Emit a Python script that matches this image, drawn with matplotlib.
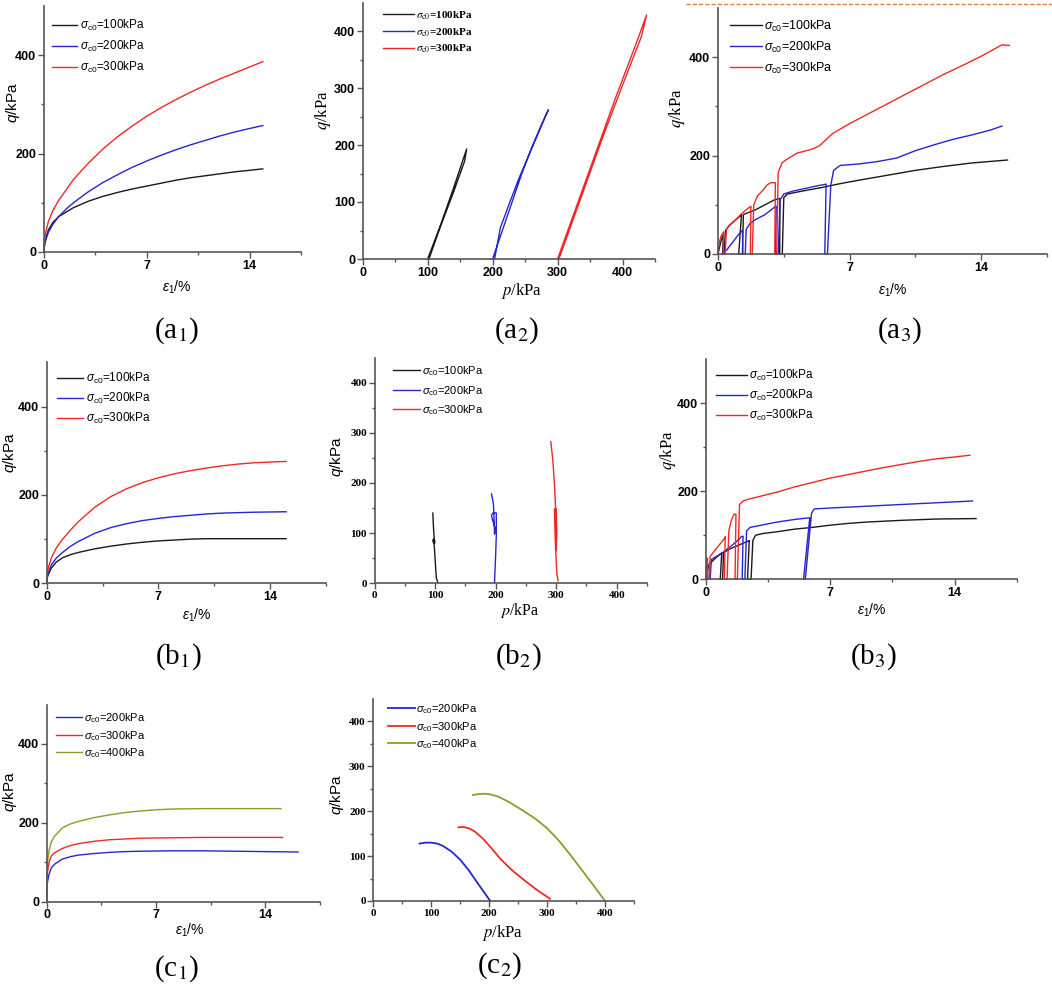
import matplotlib
matplotlib.use('Agg')
import matplotlib.pyplot as plt
from matplotlib.ticker import FixedLocator
from matplotlib.font_manager import FontProperties
from matplotlib.lines import Line2D

plt.rcParams['mathtext.fontset'] = 'custom'
plt.rcParams['mathtext.rm'] = 'Liberation Sans'
plt.rcParams['mathtext.it'] = 'Liberation Sans:italic'
plt.rcParams['mathtext.bf'] = 'Liberation Sans:bold'
plt.rcParams['font.family'] = ['Liberation Sans', 'DejaVu Sans']

# ---------------- data ----------------
# (a1) q - eps1
a1_black_x = [0, 0.03, 0.1, 0.3, 0.6, 1, 2, 3, 4, 5, 6, 7, 8, 9, 10, 11, 12, 13, 14, 14.9]
a1_black_y = [0, 14, 26, 45, 60, 72, 90, 103, 113, 121, 128, 134, 140, 146, 151, 155, 159, 163, 166, 169]
a1_blue_x = [0, 0.03, 0.1, 0.3, 0.6, 1, 1.5, 2, 3, 4, 5, 6, 7, 8, 9, 10, 11, 12, 13, 14, 14.9]
a1_blue_y = [0, 12, 22, 40, 56, 72, 87, 100, 122, 141, 157, 172, 185, 197, 208, 218, 227, 236, 244, 251, 257]
a1_red_x = [0, 0.03, 0.1, 0.3, 0.6, 1, 2, 3, 4, 5, 6, 7, 8, 9, 10, 11, 12, 13, 14, 14.9]
a1_red_y = [0, 22, 38, 62, 84, 105, 147, 180, 209, 234, 256, 276, 294, 310, 325, 339, 352, 364, 376, 387]

# (a2) q - p
a2_black_p = [100, 120, 140, 160, 157, 140, 120, 102]
a2_black_q = [0, 60, 125, 193, 172, 118, 58, 0]
a2_blue_p = [200, 215, 230, 245, 260, 275, 286, 283, 270, 255, 240, 225, 212, 203]
a2_blue_q = [0, 50, 100, 150, 195, 235, 262, 255, 220, 180, 140, 95, 55, 0]
a2_red_p = [300, 330, 360, 390, 420, 437, 429, 400, 370, 340, 310, 302]
a2_red_q = [0, 95, 190, 285, 375, 428, 390, 305, 215, 120, 25, 0]

# (a3) q - eps1 (staged loading)
a3_black_x = [0, 0.15, 0.28, 0.25, 0.32, 0.4, 0.6, 0.9, 1.2, 1.25, 1.1, 1.3, 1.35, 1.6, 2.0, 2.5, 3.0,
              3.3, 3.28, 3.42, 3.5, 3.7, 4.5, 5.5, 6.5, 7.5, 9, 10.5, 12, 13.5, 15.4]
a3_black_y = [0, 25, 40, 0, 0, 48, 58, 68, 78, 80, 0, 0, 80, 84, 90, 100, 110,
              113, 0, 0, 115, 122, 128, 135, 143, 150, 160, 170, 178, 185, 191]
a3_blue_x = [0.25, 0.5, 0.8, 1.1, 1.3, 1.32, 1.45, 1.5, 1.7, 2.0, 2.5, 3.0, 3.1, 3.05, 3.2, 3.3, 3.5,
             4.0, 4.5, 5.2, 5.75, 5.68, 5.82, 6.0, 6.15, 6.5, 7.5, 8.5, 9.5, 10.5, 11.5, 12.5, 13.5, 14.5, 15.1]
a3_blue_y = [0, 10, 25, 40, 48, 0, 0, 50, 62, 70, 80, 95, 97, 0, 0, 110, 122,
             128, 132, 138, 142, 0, 0, 140, 170, 180, 183, 188, 195, 210, 222, 233, 242, 252, 260]
a3_red_x = [0, 0.05, 0.15, 0.3, 0.28, 0.38, 0.45, 0.6, 0.9, 1.2, 1.5, 1.75, 1.72, 1.82, 1.9, 2.1, 2.4,
            2.6, 2.8, 3.05, 3.02, 3.12, 3.2, 3.4, 3.6, 4.2, 5.0, 5.4, 6.1, 7, 8, 9, 10, 11, 12, 13, 14, 15.1, 15.5]
a3_red_y = [0, 20, 35, 45, 0, 0, 50, 58, 68, 80, 90, 97, 0, 0, 100, 118, 130,
            140, 145, 145, 0, 0, 165, 185, 191, 205, 213, 220, 245, 265, 285, 305, 325, 345, 365, 383, 402, 425, 424]

# (b1) q - eps1
b1_black_x = [0, 0.03, 0.1, 0.3, 0.6, 1, 1.5, 2, 3, 4, 5, 6, 7, 8, 9, 10, 12, 15]
b1_black_y = [0, 12, 20, 35, 48, 58, 65, 70, 78, 84, 89, 93, 96, 98, 100, 101, 101, 101]
b1_blue_x = [0, 0.03, 0.1, 0.3, 0.6, 1, 1.5, 2, 3, 4, 5, 6, 7, 8, 9, 10, 11, 12, 13, 15]
b1_blue_y = [0, 14, 25, 42, 57, 70, 84, 95, 113, 126, 135, 142, 147, 151, 154, 157, 159, 160, 161, 162]
b1_red_x = [0, 0.03, 0.1, 0.3, 0.6, 1, 1.5, 2, 3, 4, 5, 6, 7, 8, 9, 10, 11, 12, 13, 15]
b1_red_y = [0, 20, 35, 58, 80, 100, 121, 140, 172, 196, 214, 228, 239, 248, 255, 261, 266, 270, 273, 276]

# (b2) q - p
b2_black_p = [104, 102, 101, 100, 99, 98, 96, 97, 99, 99, 98, 97, 96]
b2_black_q = [3, 10, 25, 45, 65, 78, 85, 88, 86, 80, 95, 115, 140]
b2_blue_p = [198, 199, 200, 201, 201, 196, 193, 195, 199, 198, 197, 196, 193]
b2_blue_q = [2, 30, 60, 98, 140, 141, 135, 125, 110, 98, 140, 160, 178]
b2_red_p = [303, 301, 300, 299, 298, 297, 300, 301, 300, 299, 297, 294, 291]
b2_red_q = [5, 20, 45, 65, 100, 148, 148, 100, 65, 148, 200, 250, 282]

# (b3) q - eps1 (staged loading)
b3_black_x = [0.05, 0.1, 0.2, 0.4, 0.6, 0.85, 0.9, 0.82, 0.95, 1.0, 1.3, 1.7, 2.1, 2.4, 2.45, 2.35, 2.55,
              2.65, 2.8, 3.2, 4, 5, 6, 7, 8, 9, 11, 13, 15.2]
b3_black_y = [0, 20, 35, 42, 50, 58, 60, 0, 0, 60, 68, 75, 82, 87, 88, 0, 0,
              88, 100, 104, 108, 114, 118, 123, 127, 130, 134, 137, 138]
b3_blue_x = [0.25, 0.32, 0.6, 1.0, 1.5, 1.9, 2.0, 2.1, 2.05, 2.2, 2.3, 2.5, 3, 4, 5, 5.85, 5.5, 5.6,
             5.95, 6.1, 7, 8, 9, 10, 11, 12, 13, 14, 15.0]
b3_blue_y = [0, 45, 52, 62, 78, 92, 97, 98, 0, 0, 110, 118, 122, 130, 136, 140, 0, 0,
             150, 160, 162, 164, 166, 168, 170, 172, 174, 176, 178]
b3_red_x = [0, 0.05, 0.1, 0.12, 0.2, 0.25, 0.4, 0.7, 1.0, 1.1, 1.05, 1.2, 1.3, 1.45, 1.6, 1.7, 1.65, 1.78,
            1.9, 2.1, 2.5, 3, 4, 5, 6, 7, 8, 9, 10, 11, 12, 13, 14, 14.85]
b3_red_y = [0, 30, 48, 0, 0, 52, 60, 75, 90, 97, 0, 0, 110, 135, 148, 148, 0, 0,
            170, 178, 183, 188, 198, 210, 220, 230, 238, 246, 254, 261, 268, 274, 278, 282]

# (c1) q - eps1
c1_blue_x = [0, 0.02, 0.05, 0.15, 0.3, 0.5, 1, 1.5, 2, 3, 4, 5, 6, 8, 10, 12, 14, 16.1]
c1_blue_y = [0, 30, 50, 70, 86, 95, 108, 114, 118, 122, 125, 127, 128, 129, 129, 128, 127, 126]
c1_red_x = [0, 0.02, 0.05, 0.15, 0.3, 0.5, 1, 1.5, 2, 3, 4, 5, 6, 8, 10, 12, 15.1]
c1_red_y = [0, 50, 75, 100, 116, 124, 135, 142, 147, 153, 157, 159, 161, 162, 163, 163, 163]
c1_olive_x = [0, 0.02, 0.05, 0.15, 0.3, 0.5, 1, 1.5, 2, 3, 4, 5, 6, 7, 8, 10, 12, 15]
c1_olive_y = [0, 70, 100, 130, 152, 166, 187, 197, 203, 213, 220, 226, 230, 233, 235, 236, 236, 236]

# (c2) q - p
c2_blue_p = [80, 90, 100, 110, 120, 135, 150, 165, 180, 192, 202]
c2_blue_q = [128, 130, 130, 128, 123, 110, 92, 68, 40, 18, 0]
c2_red_p = [147, 155, 165, 175, 190, 205, 220, 240, 260, 280, 305]
c2_red_q = [164, 165, 162, 155, 138, 116, 93, 68, 47, 27, 5]
c2_olive_p = [172, 180, 190, 200, 215, 235, 260, 280, 300, 320, 340, 360, 380, 400]
c2_olive_q = [236, 238, 239, 238, 233, 220, 200, 183, 162, 135, 103, 69, 35, 0]

labels_abc = [r'$\sigma_{\rm c0}$=100kPa', r'$\sigma_{\rm c0}$=200kPa', r'$\sigma_{\rm c0}$=300kPa']
labels_c = [r'$\sigma_{\rm c0}$=200kPa', r'$\sigma_{\rm c0}$=300kPa', r'$\sigma_{\rm c0}$=400kPa']

eps_xticks = [0, 7, 14]
eps_yticks = [0, 200, 400]
p_ticks = [0, 100, 200, 300, 400]

BLACK = '#1a1a1a'
BLUE = '#2626d0'
RED = '#f02828'
OLIVE = '#8f9b2a'
SPINE = '#555555'

# ---------------- figure ----------------
W, H = 1052, 985
fig = plt.figure(figsize=(W / 100, H / 100), dpi=100)


def add_ax(box):
    x0, x1, yt, yb = box
    ax = fig.add_axes([x0 / W, 1 - yb / H, (x1 - x0) / W, (yb - yt) / H])
    ax.patch.set_alpha(0)
    return ax


def style(ax, kind, tick_family, tick_size=8, tick_weight='bold'):
    for s in ['top', 'right']:
        ax.spines[s].set_visible(False)
    for s in ['left', 'bottom']:
        ax.spines[s].set_color(SPINE)
        ax.spines[s].set_linewidth(1.2)
    if kind == 'eps':
        ax.set_xlim(0, 17.5)
        ax.set_ylim(0, 500)
        ax.set_xticks(eps_xticks)
        ax.set_yticks(eps_yticks)
        ax.xaxis.set_minor_locator(FixedLocator([3.5, 10.5, 17.5]))
        ax.yaxis.set_minor_locator(FixedLocator([100, 300]))
    else:
        ax.set_xlim(0, 450)
        ax.set_ylim(0, 450)
        ax.set_xticks(p_ticks)
        ax.set_yticks(p_ticks)
        ax.xaxis.set_minor_locator(FixedLocator([50, 150, 250, 350, 450]))
        ax.yaxis.set_minor_locator(FixedLocator([50, 150, 250, 350]))
    ax.tick_params(which='both', direction='out', color=SPINE, width=1.0, pad=1.5)
    ax.tick_params(which='major', length=4)
    ax.tick_params(which='minor', length=2.5)
    fp = FontProperties(family=tick_family, size=tick_size, weight=tick_weight)
    for lab in ax.get_xticklabels() + ax.get_yticklabels():
        lab.set_fontproperties(fp)


def add_legend(ax, box, fs, family, weight, mathfam, xline0, xline1, xtext, row1, step):
    x0, x1, yt, yb = box
    fs_px = fs * 100 / 72
    rowh = 1.2 * fs_px
    top = row1 - rowh / 2
    fp = FontProperties(family=family, size=fs, weight=weight, math_fontfamily=mathfam)
    ax.legend(loc='upper left',
              bbox_to_anchor=((xline0 - x0) / (x1 - x0), (yb - top) / (yb - yt)),
              frameon=False, prop=fp, borderpad=0, borderaxespad=0,
              handlelength=(xline1 - xline0) / fs_px,
              handletextpad=(xtext - xline1) / fs_px,
              labelspacing=(step - rowh) / fs_px)


def ftext(x, y, s, size, family, mathfam='custom', rotation=0, weight='normal'):
    fig.text(x / W, 1 - y / H, s, fontsize=size, family=family, math_fontfamily=mathfam,
             rotation=rotation, ha='center', va='center', weight=weight)


SANS = ['Liberation Sans', 'DejaVu Sans']
SERIF = ['Liberation Serif', 'DejaVu Serif']
LW = 1.0
EPS = r'$\varepsilon_{\rm 1}$/%'
QS = r'$q$/kPa'
PS = r'$p$/kPa'

# (a1)
box = (44, 301, 6, 252)
ax = add_ax(box)
ax.plot(a1_black_x, a1_black_y, color=BLACK, lw=LW, label=labels_abc[0], clip_on=False)
ax.plot(a1_blue_x, a1_blue_y, color=BLUE, lw=LW, label=labels_abc[1], clip_on=False)
ax.plot(a1_red_x, a1_red_y, color=RED, lw=LW, label=labels_abc[2], clip_on=False)
style(ax, 'eps', SANS, 9)
add_legend(ax, box, 8.5, SANS, 'normal', 'custom', 52, 77, 80, 25, 20)
ftext(13, 103, QS, 11, SANS, rotation=90)
ftext(177, 287, EPS, 10, SANS)

# (a2)
box = (362.7, 655, 2.5, 259)
ax = add_ax(box)
ax.plot(a2_black_p, a2_black_q, color=BLACK, lw=LW, label=labels_abc[0], clip_on=False)
ax.plot(a2_blue_p, a2_blue_q, color=BLUE, lw=LW, label=labels_abc[1], clip_on=False)
ax.plot(a2_red_p, a2_red_q, color=RED, lw=LW, label=labels_abc[2], clip_on=False)
style(ax, 'p', SANS, 9)
add_legend(ax, box, 8, SERIF, 'bold', 'stix', 383, 414, 416, 16, 17.5)
ftext(323, 110, QS, 12, SERIF, 'stix', rotation=90)
ftext(522, 291, PS, 12, SERIF, 'stix')

# (a3)
box = (718, 1047, 8, 254)
ax = add_ax(box)
ax.plot(a3_black_x, a3_black_y, color=BLACK, lw=LW, label=labels_abc[0], clip_on=False)
ax.plot(a3_blue_x, a3_blue_y, color=BLUE, lw=LW, label=labels_abc[1], clip_on=False)
ax.plot(a3_red_x, a3_red_y, color=RED, lw=LW, label=labels_abc[2], clip_on=False)
style(ax, 'eps', SANS, 9)
add_legend(ax, box, 9, SANS, 'normal', 'custom', 730, 762, 764, 26, 21)
ftext(677, 108, QS, 12, SERIF, 'stix', rotation=90)
ftext(893, 290, EPS, 10, SANS)

# (b1)
box = (46.7, 326, 362.5, 583.3)
ax = add_ax(box)
ax.plot(b1_black_x, b1_black_y, color=BLACK, lw=LW, label=labels_abc[0], clip_on=False)
ax.plot(b1_blue_x, b1_blue_y, color=BLUE, lw=LW, label=labels_abc[1], clip_on=False)
ax.plot(b1_red_x, b1_red_y, color=RED, lw=LW, label=labels_abc[2], clip_on=False)
style(ax, 'eps', SANS, 9)
add_legend(ax, box, 8.5, SANS, 'normal', 'custom', 57, 83, 86, 378, 19)
ftext(10, 453, QS, 11, SANS, rotation=90)
ftext(197, 615, EPS, 10, SANS)

# (b2)
box = (374.7, 647, 357.5, 583.3)
ax = add_ax(box)
ax.plot(b2_black_p, b2_black_q, color=BLACK, lw=LW, label=labels_abc[0], clip_on=False)
ax.plot(b2_blue_p, b2_blue_q, color=BLUE, lw=LW, label=labels_abc[1], clip_on=False)
ax.plot(b2_red_p, b2_red_q, color=RED, lw=LW, label=labels_abc[2], clip_on=False)
style(ax, 'p', SERIF, 8)
add_legend(ax, box, 8, SANS, 'normal', 'custom', 393, 420, 422, 371, 19)
ftext(337, 457, QS, 11, SANS, rotation=90)
ftext(520, 610, PS, 11.5, SERIF, 'stix')

# (b3)
box = (705.7, 1017, 359.3, 579.3)
ax = add_ax(box)
ax.plot(b3_black_x, b3_black_y, color=BLACK, lw=LW, label=labels_abc[0], clip_on=False)
ax.plot(b3_blue_x, b3_blue_y, color=BLUE, lw=LW, label=labels_abc[1], clip_on=False)
ax.plot(b3_red_x, b3_red_y, color=RED, lw=LW, label=labels_abc[2], clip_on=False)
style(ax, 'eps', SANS, 9)
add_legend(ax, box, 8.5, SANS, 'normal', 'custom', 716, 747, 749, 375, 19)
ftext(668, 450, QS, 12, SERIF, 'stix', rotation=90)
ftext(872, 610, EPS, 10, SANS)

# (c1)
box = (46.7, 320, 704.5, 901.7)
ax = add_ax(box)
ax.plot(c1_blue_x, c1_blue_y, color=BLUE, lw=LW, label=labels_c[0], clip_on=False)
ax.plot(c1_red_x, c1_red_y, color=RED, lw=LW, label=labels_c[1], clip_on=False)
ax.plot(c1_olive_x, c1_olive_y, color=OLIVE, lw=LW, label=labels_c[2], clip_on=False)
style(ax, 'eps', SANS, 9)
add_legend(ax, box, 8, SANS, 'normal', 'custom', 56, 82, 84, 718, 17)
ftext(10, 792, QS, 11, SANS, rotation=90)
ftext(190, 930, EPS, 10, SANS)

# (c2)
box = (373.3, 634, 699, 901)
ax = add_ax(box)
ax.plot(c2_blue_p, c2_blue_q, color=BLUE, lw=LW * 1.3, label=labels_c[0], clip_on=False)
ax.plot(c2_red_p, c2_red_q, color=RED, lw=LW * 1.3, label=labels_c[1], clip_on=False)
ax.plot(c2_olive_p, c2_olive_q, color=OLIVE, lw=LW * 1.3, label=labels_c[2], clip_on=False)
style(ax, 'p', SERIF, 8)
add_legend(ax, box, 8, SANS, 'normal', 'custom', 388, 415, 416, 709, 17)
ftext(337, 795, QS, 11, SANS, rotation=90)
ftext(503, 933, PS, 12, SERIF, 'stix')

# panel captions
captions = [('a', '1', 177, 331), ('a', '2', 517, 331), ('a', '3', 900, 331),
            ('b', '1', 178, 657), ('b', '2', 518, 657), ('b', '3', 873, 657),
            ('c', '1', 177, 969), ('c', '2', 500, 966)]
for letter, num, cx, cy in captions:
    ftext(cx, cy, '(' + letter + r'$_{\rm ' + num + '}$)', 21, SERIF, 'stix')

# decorative dashed rule at top right
fig.add_artist(Line2D([686 / W, 1.0], [1 - 4 / H, 1 - 4 / H], color='#d9804f',
                      lw=1.0, ls=(0, (3, 1.5)), transform=fig.transFigure))

fig.savefig('out.png', dpi=100)
